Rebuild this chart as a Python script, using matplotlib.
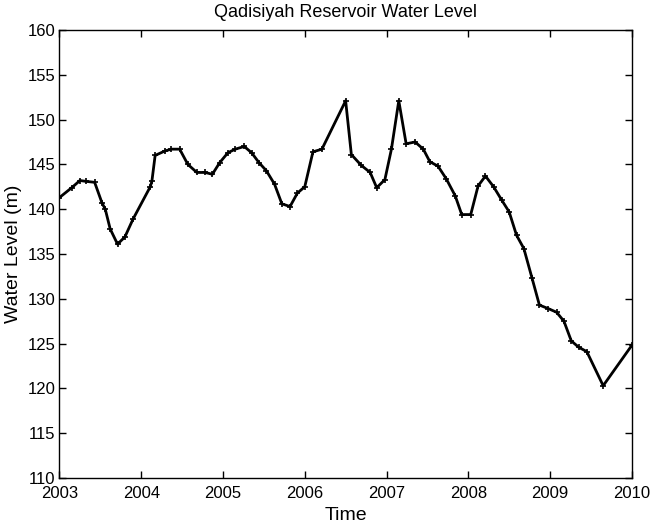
import matplotlib
matplotlib.use('Agg')
import matplotlib.pyplot as plt

# Water level readings (year, metres)
years = [2003.00, 2003.15, 2003.25, 2003.33, 2003.43, 2003.52, 2003.56, 2003.62,
         2003.71, 2003.80, 2003.90, 2004.11, 2004.13, 2004.17, 2004.29, 2004.37,
         2004.47, 2004.57, 2004.68, 2004.78, 2004.87, 2004.96, 2005.06, 2005.15,
         2005.26, 2005.35, 2005.44, 2005.53, 2005.63, 2005.72, 2005.82, 2005.91,
         2006.00, 2006.10, 2006.21, 2006.50, 2006.57, 2006.69, 2006.80, 2006.88,
         2006.98, 2007.06, 2007.15, 2007.24, 2007.35, 2007.45, 2007.53, 2007.63,
         2007.73, 2007.84, 2007.92, 2008.03, 2008.12, 2008.21, 2008.31, 2008.41,
         2008.50, 2008.59, 2008.68, 2008.78, 2008.87, 2008.98, 2009.08, 2009.17,
         2009.26, 2009.35, 2009.45, 2009.65, 2010.00]
level = [141.3, 142.4, 143.2, 143.1, 143.0, 140.7, 140.0, 137.8,
         136.1, 136.9, 138.9, 142.5, 143.1, 146.0, 146.5, 146.7,
         146.7, 145.0, 144.1, 144.1, 143.9, 145.2, 146.3, 146.7,
         147.0, 146.3, 145.2, 144.3, 142.8, 140.6, 140.3, 141.8,
         142.5, 146.4, 146.7, 152.1, 146.1, 144.9, 144.1, 142.4,
         143.3, 146.7, 152.1, 147.3, 147.5, 146.7, 145.3, 144.8,
         143.4, 141.5, 139.4, 139.4, 142.6, 143.7, 142.5, 141.0,
         139.7, 137.1, 135.6, 132.3, 129.3, 128.9, 128.5, 127.5,
         125.3, 124.6, 124.1, 120.3, 124.8]

x_ticks = list(range(2003, 2011))
y_ticks = list(range(110, 161, 5))

plt.rcParams['font.family'] = ['Liberation Sans', 'DejaVu Sans']

fig = plt.figure(figsize=(6.5, 5.28), dpi=100)
ax = fig.add_axes([0.0915, 0.0947, 0.8805, 0.8485])

ax.plot(years, level, color='black', linewidth=2, marker='+', markersize=4,
        markeredgewidth=1.2)

ax.set_xlim(2003, 2010)
ax.set_ylim(110, 160)
ax.set_xticks(x_ticks)
ax.set_yticks(y_ticks)
ax.tick_params(direction='in', top=True, right=True, length=5, width=1,
               labelsize=12)
ax.tick_params(axis='x', pad=6)
ax.tick_params(axis='y', pad=3)
# lift the bottom y label a little, like the original
ax.get_yticklabels()[0].set_y(110.6)

ax.set_title('Qadisiyah Reservoir Water Level', fontsize=13, pad=9)
ax.set_xlabel('Time', fontsize=14, labelpad=4)
ax.set_ylabel('Water Level (m)', fontsize=14, labelpad=4)

for s in ax.spines.values():
    s.set_linewidth(1)

fig.savefig('out.png', dpi=100)
